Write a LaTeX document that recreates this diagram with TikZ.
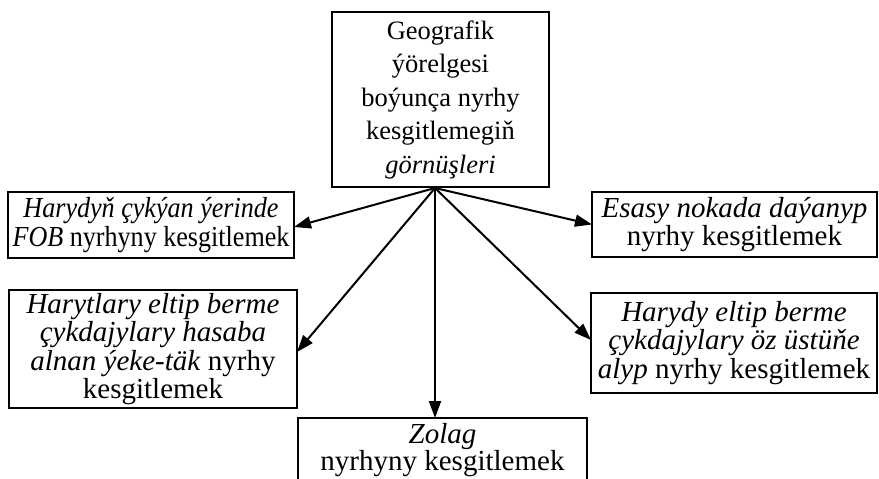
\documentclass[tikz,border=0pt]{standalone}
\usepackage{fontspec}
\setmainfont{Liberation Serif}
\newfontfamily\narrowserif[FakeStretch=0.9]{Liberation Serif}
\usetikzlibrary{arrows.meta}
\begin{document}
\begin{tikzpicture}[x=1pt,y=-1pt,
  box/.style={draw, line width=2.2pt, inner sep=0pt, outer sep=0pt, align=center,
    font=\fontsize{29}{28.5}\selectfont},
  conn/.style={line width=2pt, -{Triangle[length=17pt,width=12pt]}}]
\useasboundingbox (0,0) rectangle (879,479);
\node[box, minimum width=217pt, minimum height=175pt, font=\fontsize{26.5}{33.5}\selectfont] (top) at (440.5,99.5)
  {Geografik\\ ýörelgesi\\ boýunça nyrhy\\ kesgitlemegiň\\ \textit{görnüşleri}};
\node[box, minimum width=286pt, minimum height=66pt, font=\narrowserif\fontsize{29}{29}\selectfont] (l1) at (151,225)
  {\textit{Harydyň çykýan ýerinde}\\ \textit{FOB} nyrhyny kesgitlemek};
\node[box, minimum width=285pt, minimum height=65pt] (r1) at (734.5,224.5)
  {\textit{Esasy nokada daýanyp}\\ nyrhy kesgitlemek};
\node[box, minimum width=288pt, minimum height=118pt] (l2) at (153,349)
  {\textit{Harytlary eltip berme}\\ \textit{çykdajylary hasaba}\\ \textit{alnan ýeke-täk} nyrhy\\ kesgitlemek};
\node[box, minimum width=286pt, minimum height=100pt] (r2) at (734,343)
  {\textit{Harydy eltip berme}\\ \textit{çykdajylary öz üstüňe}\\ \textit{alyp} nyrhy kesgitlemek};
\node[box, minimum width=289pt, minimum height=64pt, font=\fontsize{29}{27}\selectfont] (b) at (442.5,450)
  {\textit{Zolag}\\ nyrhyny kesgitlemek};
\coordinate (o) at (435,188);
\draw[conn] (o) -- ([yshift=-2pt]l1.east);
\draw[conn] (o) -- (r1.west);
\draw[conn] (o) -- ([yshift=-3pt]l2.east);
\draw[conn] (o) -- ([yshift=3pt]r2.west);
\draw[conn] (o) -- (b.north -| o);
\end{tikzpicture}
\end{document}
